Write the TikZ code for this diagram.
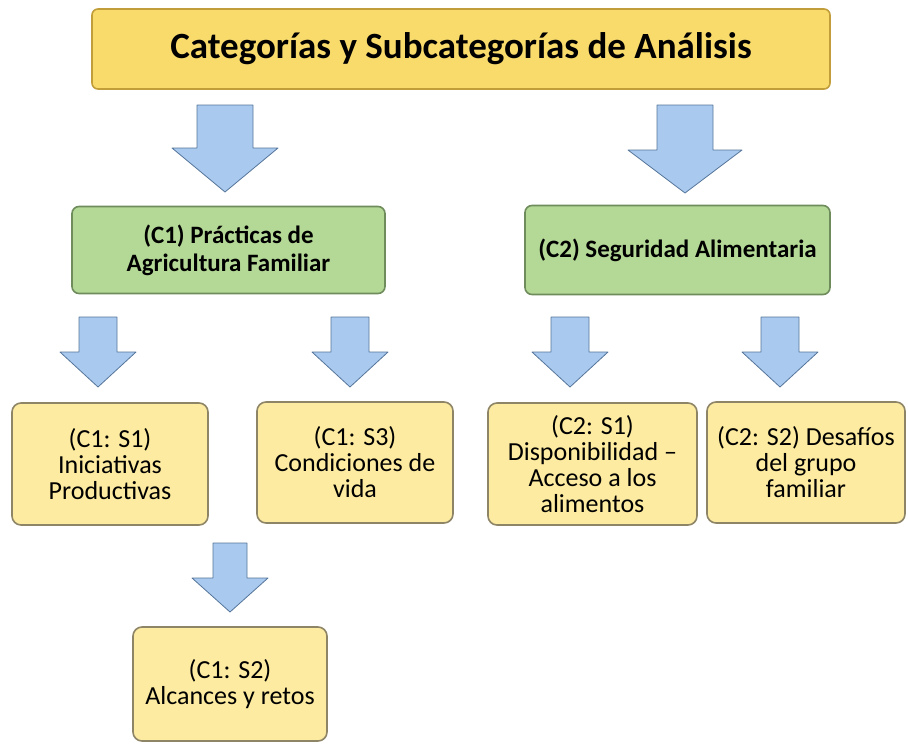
\documentclass[tikz,border=0pt]{standalone}
\usepackage{fontspec}
\setmainfont{Carlito}
\usepackage{tikz}
\usepackage{xcolor}

\definecolor{titlefill}{HTML}{F9DB6C}
\definecolor{titleedge}{HTML}{C29E3A}
\definecolor{catfill}{HTML}{B4D996}
\definecolor{catedge}{HTML}{6F8C5C}
\definecolor{subfill}{HTML}{FCEBA0}
\definecolor{subedge}{HTML}{8E8466}
\definecolor{arrowfill}{HTML}{A9CAEE}
\definecolor{arrowedge}{HTML}{55759A}

% block arrow: x, top, head start, tip, shaft half width, head half width
\newcommand{\blockarrow}[6]{%
  \filldraw[arrowshape] (#1-#5,#2) -- (#1+#5,#2) -- (#1+#5,#3) -- (#1+#6,#3)
    -- (#1,#4) -- (#1-#6,#3) -- (#1-#5,#3) -- cycle;}

\begin{document}
\begin{tikzpicture}[x=1pt,y=-1pt,
    titlebox/.style={draw=titleedge,fill=titlefill,line width=1.6pt,rounded corners=6pt,
      font=\bfseries\fontsize{37}{40}\selectfont},
    catbox/.style={draw=catedge,fill=catfill,line width=1.6pt,rounded corners=7pt,align=center,
      font=\bfseries\fontsize{25}{28}\selectfont},
    subbox/.style={draw=subedge,fill=subfill,line width=1.6pt,rounded corners=9pt,align=center,
      font=\fontsize{26}{26}\selectfont},
    arrowshape/.style={fill=arrowfill,draw=arrowedge,line width=0.8pt,line join=round}]
        \useasboundingbox (0,0) rectangle (908,744);
        \node[titlebox,minimum width=738pt,minimum height=80pt] (title) at (461,49)
            {Categorías y Subcategorías de Análisis};
        \blockarrow{225}{105}{148}{192}{28}{53}
        \blockarrow{685}{105}{150}{193}{28}{57}
        \node[catbox,minimum width=313pt,minimum height=87pt] (c1) at (228.5,250)
            {(C1) Prácticas de\\Agricultura Familiar};
        \node[catbox,minimum width=305pt,minimum height=89pt] (c2) at (677.5,250)
            {(C2) Seguridad Alimentaria};
        \blockarrow{98}{317}{352}{387}{19}{38}
        \blockarrow{350}{317}{352}{387}{19}{38}
        \blockarrow{570}{317}{352}{387}{19}{38}
        \blockarrow{780}{317}{352}{387}{19}{38}
        \node[subbox,minimum width=196pt,minimum height=122pt] (c1s1) at (110,464)
            {(C1: S1)\\Iniciativas\\Productivas};
        \node[subbox,minimum width=196pt,minimum height=121pt] (c1s3) at (355,462.5)
            {(C1: S3)\\Condiciones de\\vida};
        \node[subbox,minimum width=209pt,minimum height=122pt] (c2s1) at (592.5,464)
            {(C2: S1)\\Disponibilidad –\\Acceso a los\\alimentos};
        \node[subbox,minimum width=198pt,minimum height=121pt] (c2s2) at (806,462.5)
            {(C2: S2) Desafíos\\del grupo\\familiar};
        \blockarrow{230}{543}{578}{612}{17}{38}
        \node[subbox,minimum width=194pt,minimum height=114pt] (c1s2) at (230,684)
            {(C1: S2)\\Alcances y retos};
\end{tikzpicture}
\end{document}
